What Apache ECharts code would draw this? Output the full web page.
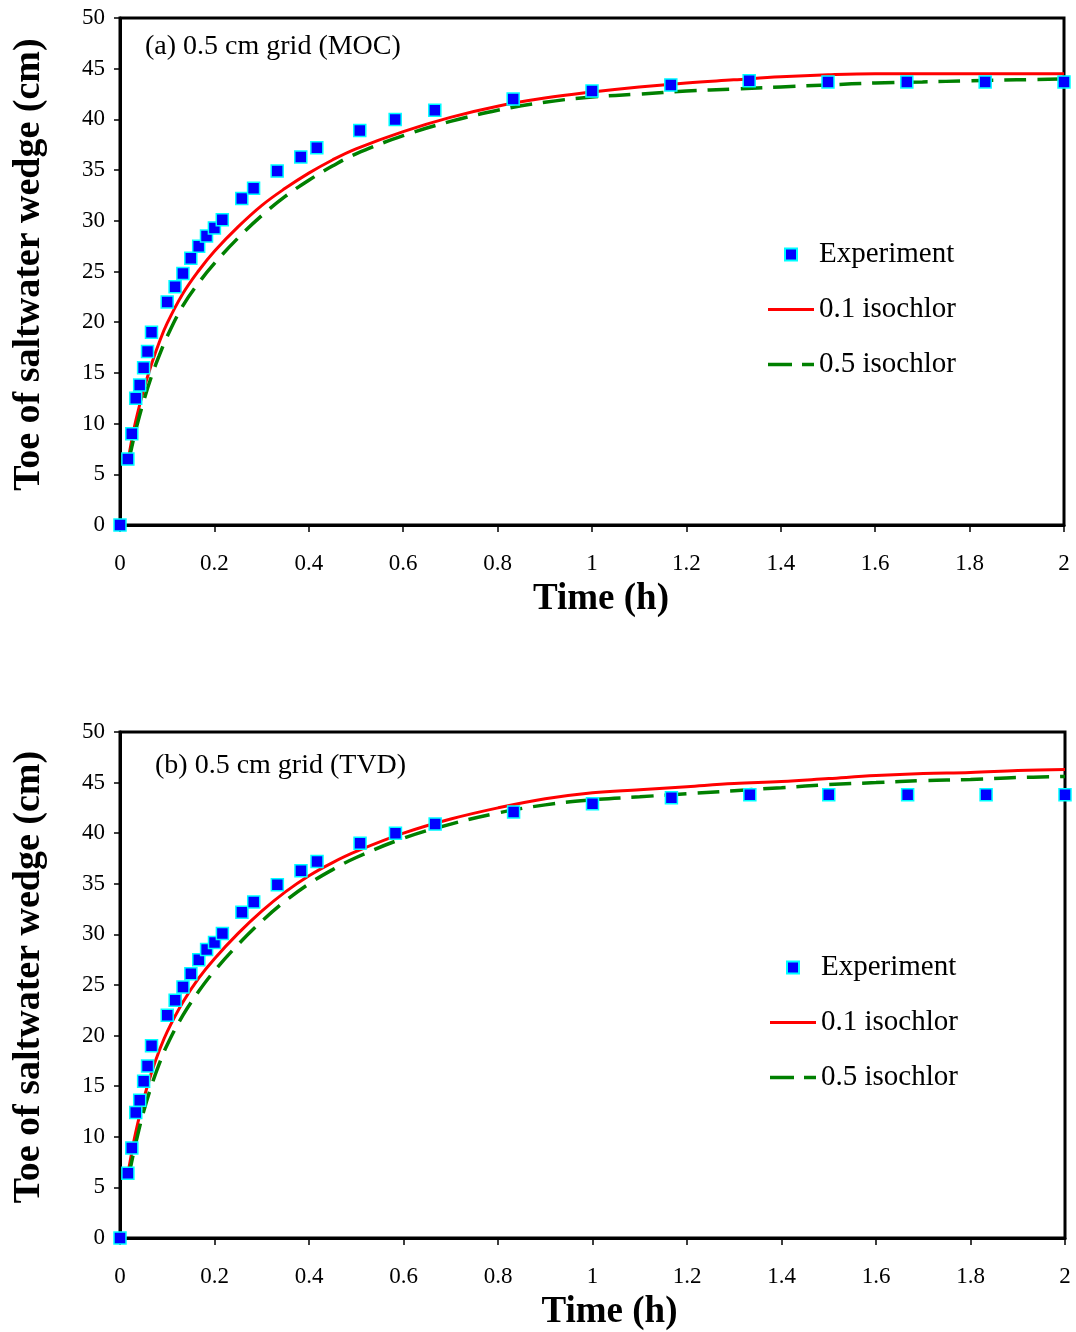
<!DOCTYPE html>
<html>
<head>
<meta charset="utf-8">
<title>Toe of saltwater wedge</title>
<script src="https://cdn.jsdelivr.net/npm/echarts@6/dist/echarts.min.js"></script>
<style>
  html, body { margin: 0; padding: 0; background: #fff; }
  #chart { width: 1076px; height: 1332px; }
</style>
</head>
<body>
<div id="chart"></div>
<script>
// experiment times (h), same in both panels
const expTime = [0, 0.0167, 0.025, 0.0333, 0.0417, 0.05, 0.0583, 0.0667, 0.1, 0.1167, 0.1333, 0.15, 0.1667, 0.1833, 0.2, 0.2167, 0.258, 0.283, 0.333, 0.383, 0.417, 0.508, 0.583, 0.667, 0.833, 1.0, 1.167, 1.333, 1.5, 1.667, 1.833, 2.0]
const expTopValues = [0, 6.5, 9.0, 12.5, 13.8, 15.5, 17.1, 19.0, 22.0, 23.5, 24.8, 26.3, 27.5, 28.5, 29.3, 30.1, 32.2, 33.2, 34.9, 36.3, 37.2, 38.9, 40.0, 40.9, 42.0, 42.8, 43.4, 43.8, 43.7, 43.7, 43.7, 43.7]
const expBottomValues = [0, 6.4, 8.9, 12.4, 13.6, 15.5, 17.0, 19.0, 22.0, 23.5, 24.8, 26.1, 27.5, 28.5, 29.2, 30.1, 32.2, 33.2, 34.9, 36.3, 37.2, 39.0, 40.0, 40.9, 42.1, 42.9, 43.5, 43.8, 43.8, 43.8, 43.8, 43.8]

// model times (h)
const modelTime = [0.018, 0.025, 0.033, 0.05, 0.067, 0.083, 0.1, 0.133, 0.167, 0.2, 0.25, 0.3, 0.35, 0.4, 0.45, 0.5, 0.6, 0.7, 0.8, 0.9, 1.0, 1.1, 1.2, 1.3, 1.4, 1.5, 1.6, 1.7, 1.8, 1.9, 2.0]
// (a) MOC
const mocIso01 = [6.6, 8.4, 10.2, 13.3, 15.9, 18.0, 19.9, 22.8, 25.1, 27.0, 29.4, 31.5, 33.2, 34.7, 36.0, 37.1, 38.8, 40.2, 41.3, 42.1, 42.7, 43.2, 43.6, 43.9, 44.2, 44.4, 44.5, 44.5, 44.5, 44.5, 44.5]
const mocIso05 = [6.2, 7.7, 9.3, 12.2, 14.7, 16.7, 18.6, 21.6, 23.9, 25.8, 28.3, 30.5, 32.4, 34.0, 35.4, 36.6, 38.4, 39.8, 40.9, 41.7, 42.2, 42.5, 42.8, 43.0, 43.2, 43.4, 43.6, 43.7, 43.8, 43.9, 44.0]
// (b) TVD
const tvdIso01 = [6.7, 8.5, 10.4, 13.7, 16.4, 18.5, 20.4, 23.3, 25.7, 27.6, 30.1, 32.3, 34.2, 35.8, 37.1, 38.2, 40.0, 41.4, 42.5, 43.4, 44.0, 44.3, 44.6, 44.9, 45.1, 45.4, 45.7, 45.9, 46.0, 46.2, 46.3]
const tvdIso05 = [6.0, 7.6, 9.3, 12.5, 15.1, 17.2, 19.1, 22.0, 24.4, 26.4, 29.0, 31.3, 33.3, 35.0, 36.4, 37.6, 39.5, 40.9, 42.0, 42.8, 43.3, 43.6, 43.9, 44.2, 44.5, 44.8, 45.0, 45.2, 45.3, 45.5, 45.6]

const panelTitles = ['(a) 0.5 cm grid (MOC)', '(b) 0.5 cm grid (TVD)']
const legendNames = ['Experiment', '0.1 isochlor', '0.5 isochlor']

const FONT = "'Liberation Serif', 'Times New Roman', serif"

// legend icons: small square, solid bar, dashed bar (paths keep their aspect)
const legendIcons = {
  'Experiment': 'path://M0,0H12V12H0Z',
  '0.1 isochlor': 'path://M0,0H46V3H0Z',
  '0.5 isochlor': 'path://M0,0H24V3.5H0Z M34,0H46V3.5H34Z',
}

const zip = (xs, ys) => xs.map((x, i) => [x, ys[i]])

function xAxisFor(gridIndex, shift) {
  return {
    gridIndex,
    type: 'value',
    min: 0,
    max: 2,
    interval: 0.2,
    name: 'Time (h)',
    nameLocation: 'middle',
    nameGap: 56,
    nameTextStyle: { fontFamily: FONT, fontSize: 37, fontWeight: 'bold', color: '#000', padding: [0, 0, 0, shift] },
    axisLine: { lineStyle: { color: '#000', width: 3 } },
    axisTick: { length: 7, lineStyle: { color: '#000', width: 1.5 } },
    axisLabel: { margin: 27, fontFamily: FONT, fontSize: 23, color: '#000' },
    splitLine: { show: false },
  }
}

function yAxisFor(gridIndex, shift) {
  return {
    gridIndex,
    type: 'value',
    min: 0,
    max: 50,
    interval: 5,
    name: 'Toe of saltwater wedge (cm)',
    nameLocation: 'middle',
    nameGap: 72,
    nameTextStyle: { fontFamily: FONT, fontSize: 38, fontWeight: 'bold', color: '#000', padding: [0, 0, 0, shift] },
    axisLine: { lineStyle: { color: '#000', width: 3 } },
    axisTick: { length: 6, lineStyle: { color: '#000', width: 1.5 } },
    axisLabel: { margin: 15, fontFamily: FONT, fontSize: 23, color: '#000' },
    splitLine: { show: false },
  }
}

function panelSeries(idx, expValues, iso01, iso05) {
  return [
    {
      name: '0.1 isochlor',
      type: 'line',
      xAxisIndex: idx,
      yAxisIndex: idx,
      data: zip(modelTime, iso01),
      showSymbol: false,
      symbol: 'none',
      smooth: 0.4,
      lineStyle: { color: '#ff0000', width: 3 },
      itemStyle: { color: '#ff0000' },
      z: 3,
    },
    {
      name: '0.5 isochlor',
      type: 'line',
      xAxisIndex: idx,
      yAxisIndex: idx,
      data: zip(modelTime, iso05),
      showSymbol: false,
      symbol: 'none',
      smooth: 0.4,
      lineStyle: { color: '#008000', width: 3.5, type: [22, 11] },
      itemStyle: { color: '#008000' },
      z: 3,
    },
    {
      name: 'Experiment',
      type: 'scatter',
      xAxisIndex: idx,
      yAxisIndex: idx,
      data: zip(expTime, expValues),
      symbol: 'rect',
      symbolSize: 12,
      clip: false,
      itemStyle: { color: '#0000ff', borderColor: '#00ffff', borderWidth: 1.5, opacity: 1 },
      z: 5,
    },
  ]
}

function legendAt(left, top) {
  return {
    data: legendNames.map(name => ({ name, icon: legendIcons[name] })),
    orient: 'vertical',
    left,
    top,
    itemWidth: 46,
    itemHeight: 12,
    itemGap: 26,
    symbolKeepAspect: true,
    selectedMode: false,
    textStyle: { fontFamily: FONT, fontSize: 29, color: '#000' },
  }
}

const chart = echarts.init(document.getElementById('chart'))

chart.setOption({
  backgroundColor: '#fff',
  animation: false,
  title: [
    { text: panelTitles[0], left: 140, top: 28, textStyle: { fontFamily: FONT, fontSize: 28, fontWeight: 'normal', color: '#000' } },
    { text: panelTitles[1], left: 150, top: 747, textStyle: { fontFamily: FONT, fontSize: 28, fontWeight: 'normal', color: '#000' } },
  ],
  legend: [legendAt(763, 235), legendAt(765, 948)],
  grid: [
    { left: 120, top: 18, width: 944, height: 507, show: true, borderColor: '#000', borderWidth: 3 },
    { left: 120, top: 732, width: 945, height: 506, show: true, borderColor: '#000', borderWidth: 3 },
  ],
  xAxis: [xAxisFor(0, 18), xAxisFor(1, 34)],
  yAxis: [yAxisFor(0, 14), yAxisFor(1, 16)],
  series: [
    ...panelSeries(0, expTopValues, mocIso01, mocIso05),
    ...panelSeries(1, expBottomValues, tvdIso01, tvdIso05),
  ],
})
</script>
</body>
</html>
